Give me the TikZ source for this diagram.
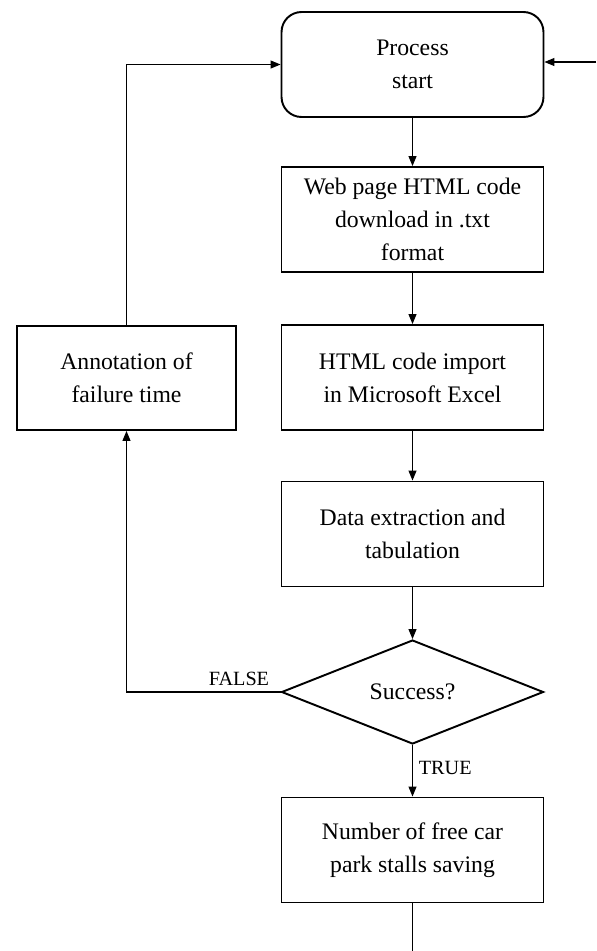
\documentclass[tikz,border=0pt]{standalone}
\usepackage{fontspec}
\setmainfont{Liberation Serif}
\usetikzlibrary{shapes.geometric,arrows.meta}
\begin{document}
\begin{tikzpicture}[
  x=0.02cm, y=-0.02cm,
  caja/.style={draw=black, line width=1.1pt, rectangle, minimum width=5.24cm, minimum height=2.1cm,
    align=center, font=\fontsize{13.5}{18.8}\selectfont},
  inicio/.style={caja, rounded corners=0.4cm},
  nota/.style={caja, minimum width=4.38cm, minimum height=2.08cm},
  decision/.style={draw=black, line width=1.1pt, diamond, minimum width=5.24cm, minimum height=2.08cm,
    inner sep=0pt, font=\fontsize{13.5}{18.8}\selectfont},
  flecha/.style={line width=0.6pt, -{Triangle[length=2mm, width=1.6mm]}},
  linea/.style={line width=0.6pt},
  etiqueta/.style={font=\fontsize{11.5}{14}\selectfont}
]
\useasboundingbox (0,0) rectangle (596,951);
\node[inicio] (start) at (412.5,64.5) {Process\\start};
\node[caja] (web) at (412.5,219.5) {Web page HTML code\\download in .txt\\format};
\node[caja] (import) at (412.5,377.5) {HTML code import\\in Microsoft Excel};
\node[nota] (note) at (126.5,378) {Annotation of\\failure time};
\node[caja] (extract) at (412.5,534) {Data extraction and\\tabulation};
\node[decision] (success) at (412.5,692) {Success?};
\node[caja] (save) at (412.5,850) {Number of free car\\park stalls saving};
\coordinate (right) at (596,62);
\coordinate (bottom) at (412.5,951);

\draw[flecha] (start) -- (web);
\draw[flecha] (web) -- (import);
\draw[flecha] (import) -- (extract);
\draw[flecha] (extract) -- (success);
\draw[flecha] (success) -- node[etiqueta, right, pos=0.45] {TRUE} (save);
\draw[flecha] (success.west) -| node[etiqueta, above, pos=0.135] {FALSE} (note.south);
\draw[flecha] (note.north) |- (start.west);
\draw[flecha] (right) -- (right -| start.east);
\draw[linea] (save) -- (bottom);
\end{tikzpicture}
\end{document}
